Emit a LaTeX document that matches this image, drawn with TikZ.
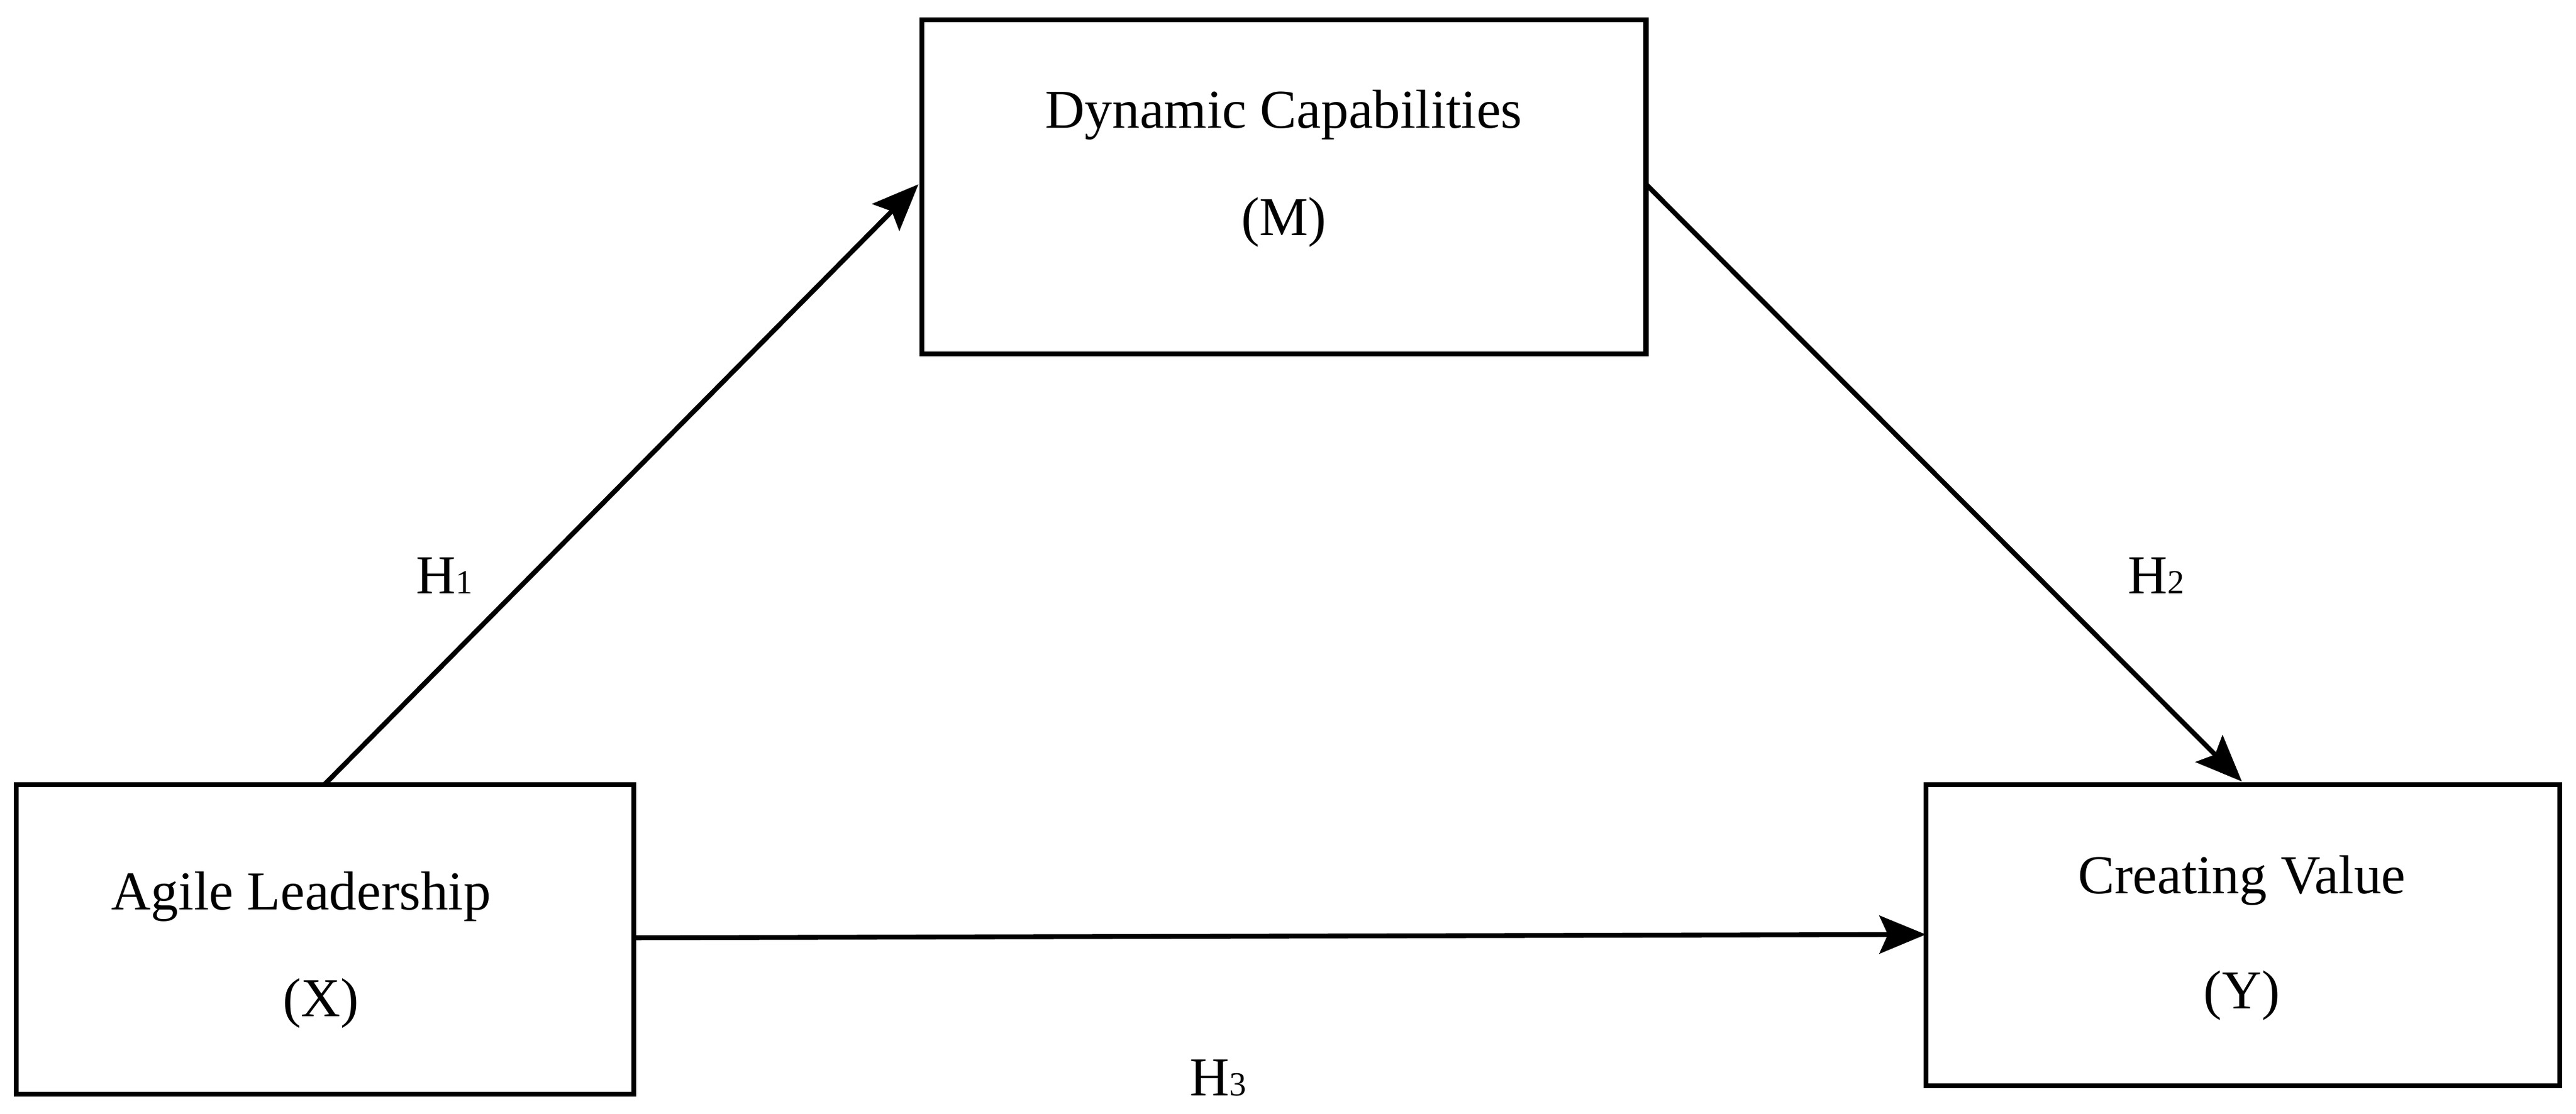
\documentclass[tikz,border=0pt]{standalone}
\usepackage{fontspec}
\setmainfont{Liberation Serif}
\usetikzlibrary{arrows.meta}
\begin{document}
\begin{tikzpicture}[x=0.027425cm,y=-0.027425cm,
  box/.style={draw,line width=2.3pt,inner sep=0pt,outer sep=0pt},
  lbl/.style={font=\fontsize{26}{30}\selectfont},
  arr/.style={line width=2.3pt,-{Stealth[length=22pt,width=18pt,inset=4pt]}}]
\useasboundingbox (0,0) rectangle (1565,677);
\node[box,minimum width=375*0.027425cm,minimum height=188*0.027425cm] (x) at (197.5,571) {};
\node[box,minimum width=440*0.027425cm,minimum height=203*0.027425cm] (m) at (780,113.5) {};
\node[box,minimum width=385*0.027425cm,minimum height=183*0.027425cm] (y) at (1362.5,568.5) {};
\coordinate (xl) at (197,477);
\coordinate (xr) at (385,570);
\coordinate (ml) at (558,112);
\coordinate (mr) at (1000,112);
\coordinate (yt) at (1362,475);
\coordinate (yl) at (1170,568);
\node[lbl] (xt1) at (183,545) {Agile Leadership};
\node[lbl] (xt2) at (195,610) {(X)};
\node[lbl] (mt1) at (780,70) {Dynamic Capabilities};
\node[lbl] (mt2) at (780,135) {(M)};
\node[lbl] (yt1) at (1362,535) {Creating Value};
\node[lbl] (yt2) at (1362,605) {(Y)};
\draw[arr] (xl) -- (ml);
\draw[arr] (mr) -- (yt);
\draw[arr] (xr) -- (yl);
\node[lbl] (h1) at (270,350) {H{\fontsize{16}{18}\selectfont 1}};
\node[lbl] (h2) at (1310,350) {H{\fontsize{16}{18}\selectfont 2}};
\node[lbl] (h3) at (740,655) {H{\fontsize{16}{18}\selectfont 3}};
\end{tikzpicture}
\end{document}
